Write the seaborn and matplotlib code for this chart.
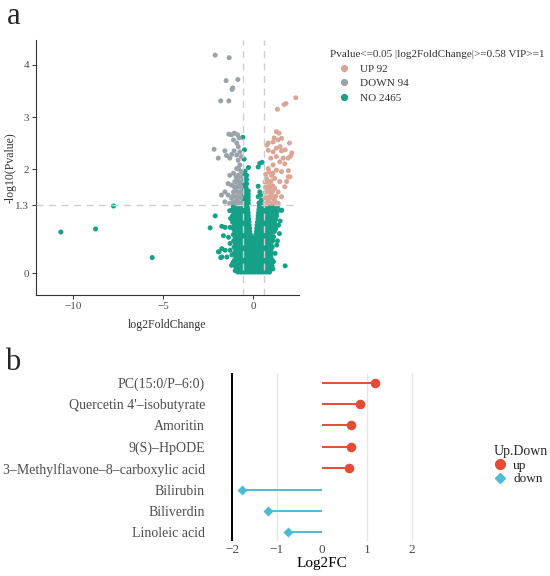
import matplotlib
matplotlib.use("Agg")
import matplotlib.pyplot as plt
from matplotlib.lines import Line2D
import seaborn as sns
import pandas as pd

# ---------------- data: panel a (volcano) ----------------
up_x = [2.37, 1.83, 1.72, 1.35, 1.29, 1.44, 1.58, 1.39, 1.17, 1.11, 0.84, 0.76, 1.50, 2.02,
        0.84, 1.11, 1.29, 1.58, 1.78, 1.29, 1.67, 1.95, 0.98, 2.09, 2.15, 1.48, 1.76, 1.11,
        0.84, 1.29, 1.58, 1.96, 1.95, 2.05, 1.02, 0.74, 1.20, 1.48, 1.76, 1.86, 0.93, 1.20,
        0.74, 1.39, 1.02, 1.58, 0.84, 1.20, 0.74, 1.02, 1.39,
        0.66, 0.80, 0.94, 1.08, 1.22, 0.66, 0.80, 0.94, 1.08, 1.26, 0.66, 0.80, 0.94, 1.08,
        0.68, 0.82, 0.96, 1.10, 0.66, 0.80, 1.00, 0.70, 0.88, 1.10]
up_y = [3.37, 3.26, 3.24, 3.15, 2.72, 2.69, 2.59, 2.56, 2.60, 2.52, 2.50, 2.46, 2.43, 2.50,
        2.36, 2.33, 2.40, 2.35, 2.37, 2.24, 2.21, 2.21, 2.21, 2.25, 2.31, 2.14, 2.10, 2.08,
        2.01, 1.98, 1.95, 1.97, 1.85, 1.85, 1.88, 1.82, 1.82, 1.76, 1.66, 1.76, 1.69, 1.63,
        1.60, 1.56, 1.50, 1.47, 1.40, 1.40, 1.34, 1.34, 1.34,
        1.35, 1.35, 1.35, 1.35, 1.37, 1.45, 1.45, 1.46, 1.45, 1.48, 1.55, 1.56, 1.55, 1.57,
        1.65, 1.66, 1.64, 1.68, 1.75, 1.76, 1.77, 1.90, 1.95, 1.92]

down_x = [-2.11, -1.33, -1.50, -0.85, -1.13, -1.17, -1.80, -1.35,
          -1.35, -1.20, -1.05, -0.87, -0.78, -1.09, -0.91, -0.83, -2.17, -1.57, -1.48, -1.94,
          -1.06, -1.20, -1.30, -0.91, -0.74, -0.65, -0.83, -0.74, -0.91, -1.09, -1.30, -0.83,
          -1.39, -1.20, -1.02, -0.83, -0.91, -1.09, -1.76, -1.57, -1.39, -1.20, -1.02, -1.30,
          -0.83, -0.74, -0.91, -0.74, -1.57, -0.74,
          -0.68, -0.82, -0.96, -1.10, -0.68, -0.82, -0.96, -1.12, -0.68, -0.85, -0.98, -0.68,
          -0.82, -1.05, -0.70, -0.88, -0.66, -0.95, -0.66, -0.80]
down_y = [4.19, 4.14, 3.70, 3.72, 3.56, 3.53, 3.31, 3.31,
          2.67, 2.66, 2.69, 2.66, 2.60, 2.56, 2.50, 2.43, 2.38, 2.35, 2.26, 2.21,
          2.35, 2.28, 2.21, 2.27, 2.33, 2.24, 2.17, 2.08, 2.01, 1.92, 1.88, 1.88,
          1.72, 1.69, 1.76, 1.79, 1.66, 1.56, 1.50, 1.56, 1.50, 1.44, 1.37, 1.34,
          1.47, 1.56, 1.40, 1.34, 1.37, 1.69,
          1.35, 1.36, 1.34, 1.36, 1.45, 1.46, 1.47, 1.48, 1.55, 1.56, 1.58, 1.65,
          1.66, 1.66, 1.75, 1.74, 1.85, 1.85, 1.95, 2.00]

# dense non-significant cloud, read row by row
no_row_y = [0.02, 0.08, 0.14, 0.20, 0.26, 0.32, 0.38, 0.44, 0.50, 0.56, 0.62,
            0.68, 0.74, 0.80, 0.86, 0.92, 0.98, 1.04, 1.10, 1.16, 1.22, 1.28]
no_row_x = [
    [-0.85, -0.69, -0.53, -0.37, -0.21, -0.05, 0.11, 0.27, 0.43, 0.59, 0.75, 0.91],
    [-0.93, -0.77, -0.61, -0.45, -0.29, -0.13, 0.03, 0.19, 0.35, 0.51, 0.67, 0.83, 0.99],
    [-1.00, -0.85, -0.69, -0.53, -0.37, -0.21, -0.05, 0.11, 0.27, 0.43, 0.59, 0.75, 0.91, 1.05],
    [-0.93, -0.77, -0.61, -0.45, -0.29, -0.13, 0.03, 0.19, 0.35, 0.51, 0.67, 0.83, 0.99],
    [-1.02, -0.85, -0.69, -0.53, -0.37, -0.21, -0.05, 0.11, 0.27, 0.43, 0.59, 0.75, 0.91, 1.04],
    [-0.95, -0.77, -0.61, -0.45, -0.29, -0.13, 0.03, 0.19, 0.35, 0.51, 0.67, 0.83, 0.98],
    [-1.05, -0.88, -0.69, -0.53, -0.37, -0.21, -0.05, 0.11, 0.27, 0.43, 0.59, 0.75, 0.91, 1.02],
    [-0.97, -0.79, -0.61, -0.45, -0.29, -0.13, 0.03, 0.19, 0.35, 0.51, 0.67, 0.83, 0.99],
    [-1.06, -0.90, -0.72, -0.55, -0.38, -0.21, -0.05, 0.11, 0.27, 0.43, 0.59, 0.75, 0.91, 1.06],
    [-0.98, -0.81, -0.64, -0.47, -0.30, -0.14, 0.02, 0.19, 0.35, 0.51, 0.67, 0.83, 0.99],
    [-1.08, -0.91, -0.74, -0.57, -0.40, -0.23, -0.08, 0.08, 0.24, 0.41, 0.58, 0.75, 0.92, 1.08],
    [-1.00, -0.83, -0.66, -0.49, -0.32, -0.16, 0.00, 0.16, 0.32, 0.49, 0.66, 0.83, 0.99, 1.10],
    [-1.10, -0.93, -0.76, -0.59, -0.42, -0.28, -0.15, 0.15, 0.30, 0.47, 0.64, 0.81, 0.98],
    [-1.02, -0.85, -0.68, -0.51, -0.34, -0.19, 0.19, 0.34, 0.51, 0.68, 0.85, 1.02, 1.18],
    [-1.12, -0.95, -0.78, -0.61, -0.44, -0.30, -0.20, 0.20, 0.34, 0.48, 0.65, 0.82, 0.99, 1.14],
    [-1.04, -0.87, -0.70, -0.53, -0.37, -0.22, 0.22, 0.37, 0.53, 0.70, 0.87, 1.04, 1.22],
    [-1.14, -0.97, -0.80, -0.63, -0.46, -0.34, -0.23, 0.24, 0.36, 0.51, 0.68, 0.85, 1.02, 1.19],
    [-1.06, -0.89, -0.72, -0.55, -0.40, -0.25, 0.27, 0.42, 0.58, 0.75, 0.92, 1.09, 1.26],
    [-1.15, -0.98, -0.81, -0.64, -0.47, -0.37, -0.27, 0.28, 0.40, 0.55, 0.72, 0.89, 1.06, 1.21],
    [-1.08, -0.91, -0.74, -0.57, -0.42, -0.28, 0.30, 0.45, 0.61, 0.78, 0.95, 1.12, 1.30],
    [-1.16, -0.99, -0.82, -0.65, -0.48, -0.39, -0.30, 0.32, 0.43, 0.58, 0.75, 0.92, 1.09, 1.25],
    [-1.10, -0.93, -0.76, -0.59, -0.45, -0.31, 0.34, 0.49, 0.64, 0.81, 0.98, 1.15, 1.35],
]
no_extra_x = [-10.69, -8.76, -7.76, -5.61, 1.78, -2.39, -2.11, -1.89, -1.80, 1.59, 1.50, 1.46,
              -1.74, -1.56, -1.28, -1.65, -1.37, -1.28, -1.74, -1.93, -1.56, -1.28, -1.74, -1.46,
              -1.18, -1.09, 1.50, 1.41, 1.13, 1.31, 1.22, 1.13, 1.30, 1.35, -1.30, -1.25, -1.20,
              -1.00, 1.10, 1.25, -1.13,
              -0.52, -0.39, -0.27, -0.52, -0.39, -0.27, -0.52, -0.39, -0.27, -0.52, -0.39, -0.27,
              -0.52, -0.39, -0.27, -0.52, -0.39, -0.50, -0.36, -0.50, -0.36, -0.50, -0.36, -0.45,
              -0.57, -0.48, -0.50, -0.26, 0.37, 0.28, 0.50, 0.28, 0.37, 0.28, 0.45, 0.33, 0.52, 0.42]
no_extra_y = [0.79, 0.85, 1.29, 0.30, 0.14, 0.87, 1.10, 0.41, 0.30, 1.21, 1.00, 0.76,
              0.90, 0.88, 0.88, 0.72, 0.69, 0.57, 0.47, 0.41, 0.44, 0.44, 0.31, 0.31,
              0.35, 0.22, 1.21, 0.92, 0.70, 0.54, 0.38, 0.22, 1.10, 0.62, 1.20, 1.05, 0.15,
              0.05, 0.08, 0.85, 0.19,
              1.34, 1.34, 1.34, 1.40, 1.40, 1.40, 1.46, 1.46, 1.46, 1.52, 1.52, 1.52,
              1.58, 1.58, 1.58, 1.64, 1.64, 1.72, 1.72, 1.80, 1.80, 1.88, 1.88, 1.96,
              2.61, 2.37, 2.19, 2.03, 2.11, 2.04, 2.13, 1.67, 1.56, 1.47, 1.40, 1.35, 1.33, 1.50]

group_names = ["UP", "DOWN", "NO"]
group_labels = ["UP 92", "DOWN 94", "NO 2465"]
group_colors = ["#DCA697", "#99A3AA", "#15A088"]
fc_cut = 0.58
p_cut = 1.3
legend_a_title = "Pvalue<=0.05 |log2FoldChange|>=0.58 VIP>=1"

# ---------------- data: panel b (lollipop) ----------------
metabolites = ["PC(15:0/P\u20136:0)", "Quercetin 4'\u2013isobutyrate", "Amoritin", "9(S)\u2013HpODE",
               "3\u2013Methylflavone\u20138\u2013carboxylic acid", "Bilirubin", "Biliverdin",
               "Linoleic acid"]
log2fc = [1.18, 0.85, 0.65, 0.64, 0.59, -1.78, -1.19, -0.76]
direction = ["up", "up", "up", "up", "up", "down", "down", "down"]
dir_colors = {"up": "#E64B35", "down": "#4DBBD5"}

# ---------------- build frames ----------------
nx, ny = [], []
for yv, xs in zip(no_row_y, no_row_x):
    nx.extend(xs)
    ny.extend([yv] * len(xs))
nx.extend(no_extra_x)
ny.extend(no_extra_y)

dfa = pd.concat([
    pd.DataFrame({"fc": nx, "p": ny, "grp": "NO"}),
    pd.DataFrame({"fc": down_x, "p": down_y, "grp": "DOWN"}),
    pd.DataFrame({"fc": up_x, "p": up_y, "grp": "UP"}),
], ignore_index=True)

dfb = pd.DataFrame({"name": metabolites, "fc": log2fc, "dir": direction,
                    "pos": list(range(len(metabolites)))})

# ---------------- plotting ----------------
sns.set_theme(style="ticks")
plt.rcParams['font.family'] = ['Liberation Serif', 'DejaVu Serif']

W, H = 550, 576
fig = plt.figure(figsize=(W / 100, H / 100), dpi=100)

# panel a
axa = fig.add_axes([36 / W, 1 - 295 / H, 263 / W, 255 / H])
pal = dict(zip(group_names, group_colors))
sns.scatterplot(data=dfa, x="fc", y="p", hue="grp", palette=pal, s=13, linewidth=0,
                alpha=1, ax=axa, legend=False, zorder=2)
dash = (0, (5, 4))
axa.axhline(p_cut, color="#CFCFCF", lw=1.0, ls=dash, zorder=3)
axa.axvline(-fc_cut, color="#CFCFCF", lw=1.0, ls=dash, zorder=3)
axa.axvline(fc_cut, color="#CFCFCF", lw=1.0, ls=dash, zorder=3)
axa.set_xlim(-12.07, 2.55)
axa.set_ylim(-0.42, 4.48)
axa.set_xticks([-10, -5, 0])
axa.set_xticklabels(["\u221210", "\u22125", "0"])
axa.set_yticks([0, 1.3, 2, 3, 4])
axa.set_yticklabels(["0", "1.3", "2", "3", "4"])
for s in ["top", "right"]:
    axa.spines[s].set_visible(False)
for s in ["left", "bottom"]:
    axa.spines[s].set_color("#333333")
    axa.spines[s].set_linewidth(0.8)
axa.tick_params(direction="out", length=3, width=0.7, color="#333333",
                labelsize=8, labelcolor="#4D4D4D", pad=2)
axa.set_xlabel("log2FoldChange", fontsize=8.5, color="#333333", labelpad=6)
axa.set_ylabel("-log10(Pvalue)", fontsize=8.5, color="#333333")
axa.yaxis.set_label_coords(-(36 - 17) / 263, 0.5)

handles_a = [Line2D([], [], marker="o", ls="", color=c, markersize=4.2) for c in group_colors]
lega = fig.legend(handles_a, group_labels, title=legend_a_title, loc="upper left",
                  bbox_to_anchor=(322 / W, 1 - 42 / H), frameon=False, fontsize=8,
                  title_fontsize=8, alignment="left", handlelength=2.5, handletextpad=0.2,
                  labelspacing=0.45, borderpad=0.2)
for t in lega.get_texts():
    t.set_color("#333333")
lega.get_title().set_color("#333333")

fig.text(7 / W, 1 - 2 / H, "a", fontsize=22, va="top", ha="left")

# panel b
axb = fig.add_axes([223 / W, 1 - 541 / H, 198 / W, 168 / H])
for gx in [-1, 1, 2]:
    axb.axvline(gx, color="#E6E6E6", lw=1.0, zorder=0)
axb.axvline(-2, color="black", lw=1.4, zorder=1)
for _, r in dfb.iterrows():
    axb.plot([0, r["fc"]], [r["pos"], r["pos"]], color=dir_colors[r["dir"]], lw=1.4,
             zorder=2, solid_capstyle="butt")
sns.scatterplot(data=dfb[dfb["dir"] == "up"], x="fc", y="pos", color=dir_colors["up"],
                marker="o", s=48, linewidth=0, ax=axb, legend=False, zorder=3)
sns.scatterplot(data=dfb[dfb["dir"] == "down"], x="fc", y="pos", color=dir_colors["down"],
                marker="D", s=26, linewidth=0, ax=axb, legend=False, zorder=3)
axb.set_xlim(-2.2, 2.2)
axb.set_ylim(len(metabolites) - 0.6, -0.45)
axb.set_yticks(dfb["pos"])
axb.set_yticklabels(metabolites)
axb.set_xticks([-2, -1, 0, 1, 2])
axb.set_xticklabels(["\u22122", "\u22121", "0", "1", "2"])
for s in axb.spines.values():
    s.set_visible(False)
axb.tick_params(axis="y", length=0, labelsize=10, labelcolor="#4D4D4D", pad=13)
axb.tick_params(axis="x", length=0, labelsize=9.5, labelcolor="#4D4D4D", pad=2)
axb.set_xlabel("Log2FC", fontsize=11, color="black", labelpad=1)
axb.set_ylabel("")

handles_b = [Line2D([], [], marker="o", ls="", color=dir_colors["up"], markersize=7),
             Line2D([], [], marker="D", ls="", color=dir_colors["down"], markersize=5.5)]
legb = fig.legend(handles_b, ["up", "down"], title="Up.Down", loc="upper left",
                  bbox_to_anchor=(484 / W, 1 - 436 / H), frameon=False, fontsize=9.5,
                  title_fontsize=10, alignment="left", handlelength=1.0, handletextpad=0.5,
                  labelspacing=0.1, borderpad=0.2)
for t in legb.get_texts():
    t.set_color("#222222")

fig.text(5 / W, 1 - 348 / H, "b", fontsize=22, va="top", ha="left")

fig.savefig("out.png", dpi=100)
